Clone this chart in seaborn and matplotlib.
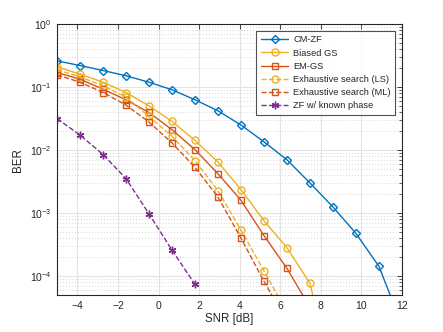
import numpy as np
import pandas as pd
import matplotlib
matplotlib.use("Agg")
import matplotlib.pyplot as plt
import seaborn as sns
from matplotlib.ticker import LogLocator, NullFormatter

# DATA
SNR = [-5, -3.87, -2.73, -1.6, -0.47, 0.67, 1.8, 2.93,
       4.07, 5.2, 6.33, 7.47, 8.6, 9.73, 10.87, 12]

BER_CMZF = [0.262, 0.221, 0.184, 0.152, 0.120, 0.091, 0.0632, 0.0423,
            0.0251, 0.0136, 0.00707, 0.00302, 0.00126, 4.81e-4, 1.44e-4, 1.7e-5]
BER_BIASED = [0.211, 0.161, 0.120, 0.0824, 0.0507, 0.0286, 0.0143, 0.0065,
              0.00237, 7.6e-4, 2.85e-4, 7.7e-5, 2.3e-6]
BER_EMGS = [0.171, 0.134, 0.093, 0.063, 0.0397, 0.0211, 0.0102, 0.00424,
            0.0016, 4.42e-4, 1.34e-4, 3.2e-5]
BER_LS = [0.189, 0.146, 0.105, 0.0697, 0.0343, 0.0166, 0.00682, 0.00228,
          5.36e-4, 1.22e-4, 2.7e-5]
BER_ML = [0.157, 0.120, 0.0824, 0.052, 0.028, 0.0130, 0.00534, 0.00181,
          4.0e-4, 8.3e-5, 1.9e-5]
BER_ZF = [0.0316, 0.0174, 0.0085, 0.00353, 9.75e-4, 2.58e-4, 7.4e-5]

ASTERISK = (6, 2, 0)

# label, values, color, marker, marker size, linestyle
SERIES = [
    ("CM-ZF",                   BER_CMZF,   "#0072BD", "D",      4.2, "-"),
    ("Biased GS",               BER_BIASED, "#EDB120", "o",      5.0, "-"),
    ("EM-GS",                   BER_EMGS,   "#D95319", "s",      4.3, "-"),
    ("Exhaustive search (LS)",  BER_LS,     "#EDB120", "o",      5.0, "--"),
    ("Exhaustive search (ML)",  BER_ML,     "#D95319", "s",      4.3, "--"),
    ("ZF w/ known phase",       BER_ZF,     "#7E2F8E", ASTERISK, 5.5, "--"),
]

sns.set_theme(style="white")
plt.rcParams["font.family"] = ["Liberation Sans", "DejaVu Sans"]

fig = plt.figure(figsize=(4.43, 3.32), dpi=100)
ax = fig.add_axes([0.129, 0.111, 0.778, 0.816])

for label, vals, color, marker, msize, ls in SERIES:
    df = pd.DataFrame({"snr": SNR[:len(vals)], "ber": vals})
    sns.lineplot(
        data=df, x="snr", y="ber", ax=ax, label=label,
        color=color, linestyle=ls, linewidth=1.0,
        marker=marker, markersize=msize,
        markerfacecolor="none", markeredgecolor=color, markeredgewidth=1.0,
        estimator=None, sort=False,
    )

ax.set_yscale("log")
ax.set_xlim(-5, 12)
ax.set_ylim(5e-5, 1)
ax.set_xticks(range(-4, 13, 2))
ax.yaxis.set_major_locator(LogLocator(base=10, numticks=10))
ax.yaxis.set_minor_locator(LogLocator(base=10, subs=np.arange(2, 10), numticks=20))
ax.yaxis.set_minor_formatter(NullFormatter())

ax.grid(True, which="major", color="#e3e3e3", linewidth=0.8, linestyle="-")
ax.grid(True, which="minor", axis="y", color="#c8c8c8", linewidth=0.6, linestyle=(0, (1, 2.5)))
ax.set_axisbelow(True)

for sp in ax.spines.values():
    sp.set_color("#262626")
    sp.set_linewidth(0.8)
ax.tick_params(which="both", direction="in", top=True, right=True,
               colors="#262626", labelsize=7.5, pad=4)
ax.tick_params(which="major", length=3.5, width=0.6)
ax.tick_params(which="minor", length=2, width=0.5)

ax.set_xlabel("SNR [dB]", fontsize=8.3, color="#262626", labelpad=2)
ax.set_ylabel("BER", fontsize=8.3, color="#262626", labelpad=4)

leg = ax.legend(loc="upper right", fontsize=6.7, frameon=True, fancybox=False,
                handlelength=3.0, borderaxespad=0.7, labelspacing=0.45,
                borderpad=0.5, handletextpad=0.5)
leg.get_frame().set_edgecolor("#262626")
leg.get_frame().set_linewidth(0.8)

fig.savefig("out.png", dpi=100)
